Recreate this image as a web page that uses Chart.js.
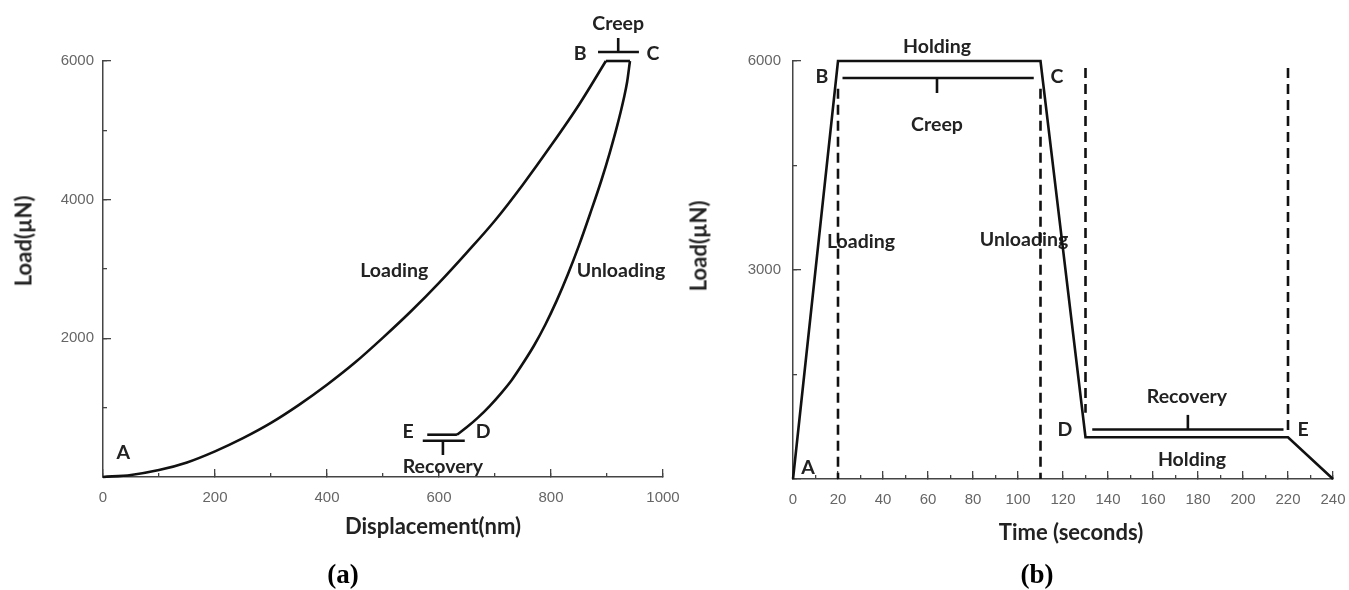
<!DOCTYPE html>
<html>
<head>
<meta charset="utf-8">
<script src="https://cdn.jsdelivr.net/npm/chart.js@4/dist/chart.umd.min.js"></script>
<style>
  body { margin: 0; background: #fff; }
  #wrap { position: relative; width: 1349px; height: 590px; overflow: hidden; }
  canvas { position: absolute; top: 0; }
  .axt { position: absolute; font: bold 22px Lato, sans-serif; color: #222; white-space: nowrap; transform: translate(-50%, -50%); }
  .axt.rot { transform: translate(-50%, -50%) rotate(-90deg); }
  .cap { position: absolute; font: bold 27px "Liberation Serif", serif; color: #000; transform: translate(-50%, -50%); }
</style>
</head>
<body>
<div id="wrap">
  <canvas id="chartA" width="700" height="590" style="left:0"></canvas>
  <canvas id="chartB" width="649" height="590" style="left:700px"></canvas>
  <div class="axt rot" style="left:23px;top:241px">Load(µN)</div>
  <div class="axt" style="left:433px;top:525px">Displacement(nm)</div>
  <div class="axt rot" style="left:698px;top:246px">Load(µN)</div>
  <div class="axt" style="left:1071px;top:531px">Time (seconds)</div>
  <div class="cap" style="left:343px;top:574px">(a)</div>
  <div class="cap" style="left:1037px;top:574px">(b)</div>
</div>
<script>
// (a) load vs displacement
const loadingNm = [0, 50, 100, 150, 200, 250, 300, 350, 400, 450, 500, 550, 600, 650, 700, 750, 800, 850, 898];
const loadingUN = [0, 30, 100, 210, 370, 560, 780, 1040, 1330, 1650, 2010, 2390, 2800, 3240, 3700, 4220, 4780, 5370, 6000];
const creepNm = [898, 941];
const creepUN = [6000, 6000];
const unloadingNm = [941, 936, 930, 918, 905, 890, 870, 850, 830, 810, 790, 770, 750, 730, 710, 690, 670, 650, 632];
const unloadingUN = [6000, 5700, 5460, 5060, 4680, 4280, 3800, 3340, 2920, 2540, 2200, 1900, 1640, 1400, 1200, 1020, 860, 720, 610];
const recoveryNm = [632, 579];
const recoveryUN = [610, 610];
// brackets marking creep / recovery
const creepBracketNm = [884, 957, 920];
const creepBracketUN = [6130, 6332];
const recovBracketNm = [571, 646, 607];
const recovBracketUN = [523, 317];

// (b) load vs time
const timeS = [0, 20, 110, 130, 220, 240];
const loadTime = [0, 6000, 6000, 600, 600, 0];
const phaseTimes = [20, 110, 130, 220];
const phaseTop = [5600, 5600, 5900, 5900];
const phaseBottom = [0, 0, 950, 650];
const creepBracketS = [22, 107, 64];
const creepBracketB = [5756, 5541];
const recovBracketS = [133, 218, 175.5];
const recovBracketB = [710, 920];

// labels [text, x, y] in data units
const labelsA = [
  ['Creep', 920, 6534], ['B', 852, 6101], ['C', 982, 6101],
  ['Loading', 520, 2971], ['Unloading', 925, 2971], ['A', 36, 346],
  ['E', 545, 649], ['D', 679, 649], ['Recovery', 607, 144]
];
const labelsB = [
  ['Holding', 64, 6201], ['B', 12.9, 5770], ['C', 117.3, 5770], ['Creep', 64, 5081],
  ['Loading', 30.2, 3402], ['Unloading', 102.7, 3431], ['Recovery', 175.1, 1177],
  ['Holding', 177.3, 273], ['D', 120.9, 703], ['E', 226.7, 703], ['A', 6.7, 158]
];

const pts = (xs, ys) => xs.map((v, i) => ({ x: v, y: ys[i] }));
const bracket = (xs, ys) => [
  [{ x: xs[0], y: ys[0] }, { x: xs[1], y: ys[0] }],
  [{ x: xs[2], y: ys[0] }, { x: xs[2], y: ys[1] }]
];

const textLabels = {
  id: 'textLabels',
  beforeDatasetsDraw(chart, args, opts) {
    const { ctx, scales } = chart;
    ctx.save();
    ctx.font = 'bold 19.5px Lato, sans-serif';
    ctx.fillStyle = '#222';
    ctx.textAlign = 'center';
    ctx.textBaseline = 'middle';
    opts.items.forEach(([t, vx, vy]) => {
      ctx.fillText(t, scales.x.getPixelForValue(vx), scales.y.getPixelForValue(vy));
    });
    ctx.restore();
  }
};

function line(data, extra) {
  return Object.assign({
    data: data, showLine: true, pointRadius: 0, borderColor: '#111',
    borderWidth: 2.6, tension: 0, fill: false, clip: false
  }, extra || {});
}

const tickFont = { family: 'Liberation Sans', size: 15 };

function makeScales(o) {
  return {
    x: {
      type: 'linear', position: 'bottom', min: o.xMin, max: o.xMax,
      border: { color: '#444', width: 1.5 },
      grid: { drawOnChartArea: false, tickLength: -8, color: '#444', lineWidth: 1.3 },
      ticks: { stepSize: o.xStep, color: '#666', font: tickFont, padding: 20, maxRotation: 0, autoSkip: false,
        callback: v => String(v) },
      afterFit: s => { s.height = o.xh; s.paddingLeft = 0; s.paddingRight = 0; }
    },
    x2: {
      type: 'linear', position: 'bottom', weight: -1, min: o.xMin, max: o.xMax,
      border: { display: false },
      grid: { drawOnChartArea: false, tickLength: -4, color: '#444', lineWidth: 1.3 },
      ticks: { stepSize: o.xMinor, display: false },
      afterFit: s => { s.height = 0; s.paddingLeft = 0; s.paddingRight = 0; }
    },
    y: {
      type: 'linear', position: 'left', min: 0, max: 6000,
      border: { color: '#444', width: 1.5 },
      grid: { drawOnChartArea: false, tickLength: -8, color: '#444', lineWidth: 1.3 },
      ticks: { stepSize: o.yStep, color: '#666', font: tickFont, padding: o.yPad,
        callback: v => (v === 0 ? '' : String(v)) },
      afterFit: s => { s.width = o.yw; s.paddingTop = 0; s.paddingBottom = 0; }
    },
    y2: {
      type: 'linear', position: 'left', weight: -1, min: 0, max: 6000,
      border: { display: false },
      grid: { drawOnChartArea: false, tickLength: -4, color: '#444', lineWidth: 1.3 },
      ticks: { stepSize: o.yMinor, display: false },
      afterFit: s => { s.width = 0; s.paddingTop = 0; s.paddingBottom = 0; }
    }
  };
}

const baseOpts = {
  responsive: false, animation: false,
  plugins: { legend: { display: false }, tooltip: { enabled: false } }
};

const cbA = bracket(creepBracketNm, creepBracketUN);
const rbA = bracket(recovBracketNm, recovBracketUN);
new Chart(document.getElementById('chartA'), {
  type: 'scatter',
  data: {
    datasets: [
      line(pts(loadingNm, loadingUN), { cubicInterpolationMode: 'monotone' }),
      line(pts(creepNm, creepUN)),
      line(pts(unloadingNm, unloadingUN), { cubicInterpolationMode: 'monotone' }),
      line(pts(recoveryNm, recoveryUN)),
      line(cbA[0]), line(cbA[1]), line(rbA[0]), line(rbA[1])
    ]
  },
  options: Object.assign({}, baseOpts, {
    layout: { padding: { left: 0, top: 61, right: 37, bottom: 0 } },
    plugins: Object.assign({}, baseOpts.plugins, { textLabels: { items: labelsA } }),
    scales: makeScales({ xMin: 0, xMax: 1000, xStep: 200, xMinor: 100, yStep: 2000, yMinor: 1000, xh: 113, yw: 103, yPad: 17 })
  }),
  plugins: [textLabels]
});

const cbB = bracket(creepBracketS, creepBracketB);
const rbB = bracket(recovBracketS, recovBracketB);
const phaseSets = phaseTimes.map((t, i) => line([{ x: t, y: phaseTop[i] }, { x: t, y: phaseBottom[i] }],
  { borderDash: [10, 6], borderWidth: 2.6 }));
new Chart(document.getElementById('chartB'), {
  type: 'scatter',
  data: {
    datasets: [
      line(pts(timeS, loadTime)),
      ...phaseSets,
      line(cbB[0]), line(cbB[1]), line(rbB[0]), line(rbB[1])
    ]
  },
  options: Object.assign({}, baseOpts, {
    layout: { padding: { left: 0, top: 61, right: 16, bottom: 0 } },
    plugins: Object.assign({}, baseOpts.plugins, { textLabels: { items: labelsB } }),
    scales: makeScales({ xMin: 0, xMax: 240, xStep: 20, xMinor: 10, yStep: 3000, yMinor: 1500, xh: 111, yw: 93, yPad: 20 })
  }),
  plugins: [textLabels]
});
</script>
</body>
</html>
